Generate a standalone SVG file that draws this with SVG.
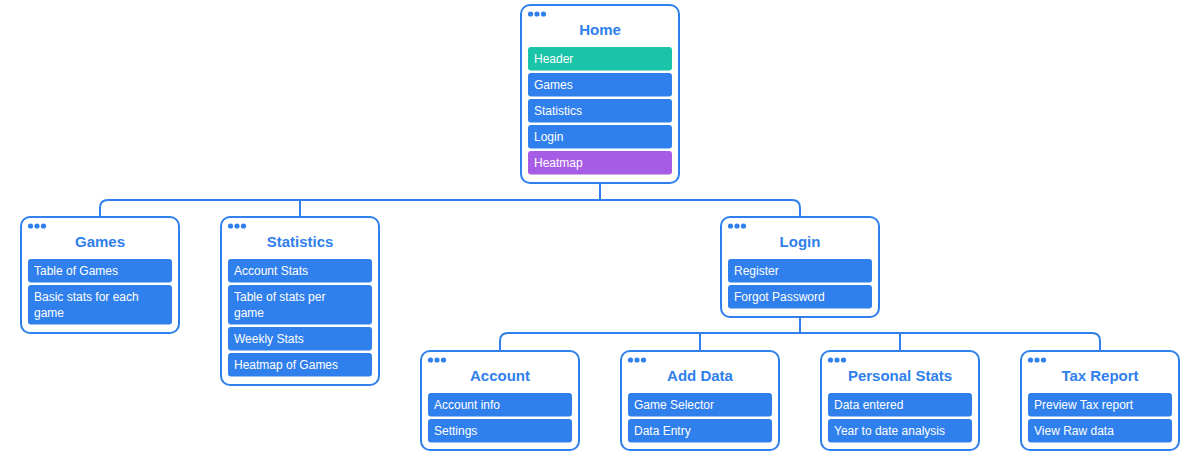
<svg xmlns="http://www.w3.org/2000/svg" width="1198" height="459" viewBox="0 0 1198 459">
<style>
.box{fill:#fff;stroke:#2f80ed;stroke-width:2}
.it{fill:#2f80ed}
.teal{fill:#19c4a8}
.purple{fill:#a75ce6}
.dot{fill:#2f80ed}
.t{font-family:"Liberation Sans",Arial,sans-serif;font-weight:bold;font-size:15px;fill:#2f80ed;text-anchor:middle}
.l{font-family:"Liberation Sans",Arial,sans-serif;font-size:12px;fill:#fff}
.c{fill:none;stroke:#2f80ed;stroke-width:2}
</style>
<defs>
<g id="dots"><circle cx="9.5" cy="9" r="2.6" class="dot"/><circle cx="16" cy="9" r="2.6" class="dot"/><circle cx="22.5" cy="9" r="2.6" class="dot"/></g>
</defs>
<g id="connectors">
<path class="c" d="M600 183 V200 M100 217 V208 Q100 200 108 200 H792 Q800 200 800 208 V217 M300 200 V217"/>
<path class="c" d="M800 317 V333 M500 351 V341 Q500 333 508 333 H1092 Q1100 333 1100 341 V351 M700 333 V351 M900 333 V351"/>
</g>
<g id="home">
<rect class="box" x="521" y="5" width="158" height="178" rx="9"/>
<use href="#dots" x="521" y="5"/>
<text class="t" x="600" y="35">Home</text>
<rect class="teal" x="528" y="47" width="144" height="23.5" rx="3"/><text class="l" x="534" y="63">Header</text>
<rect class="it" x="528" y="73" width="144" height="23.5" rx="3"/><text class="l" x="534" y="89">Games</text>
<rect class="it" x="528" y="99" width="144" height="23.5" rx="3"/><text class="l" x="534" y="115">Statistics</text>
<rect class="it" x="528" y="125" width="144" height="23.5" rx="3"/><text class="l" x="534" y="141">Login</text>
<rect class="purple" x="528" y="151" width="144" height="23.5" rx="3"/><text class="l" x="534" y="167">Heatmap</text>
</g>
<g id="games">
<rect class="box" x="21" y="217" width="158" height="116" rx="9"/>
<use href="#dots" x="21" y="217"/>
<text class="t" x="100" y="247">Games</text>
<rect class="it" x="28" y="259" width="144" height="23.5" rx="3"/><text class="l" x="34" y="275">Table of Games</text>
<rect class="it" x="28" y="285" width="144" height="39.5" rx="3"/><text class="l" x="34" y="301">Basic stats for each</text><text class="l" x="34" y="317">game</text>
</g>
<g id="statistics">
<rect class="box" x="221" y="217" width="158" height="168" rx="9"/>
<use href="#dots" x="221" y="217"/>
<text class="t" x="300" y="247">Statistics</text>
<rect class="it" x="228" y="259" width="144" height="23.5" rx="3"/><text class="l" x="234" y="275">Account Stats</text>
<rect class="it" x="228" y="285" width="144" height="39.5" rx="3"/><text class="l" x="234" y="301">Table of stats per</text><text class="l" x="234" y="317">game</text>
<rect class="it" x="228" y="327" width="144" height="23.5" rx="3"/><text class="l" x="234" y="343">Weekly Stats</text>
<rect class="it" x="228" y="353" width="144" height="23.5" rx="3"/><text class="l" x="234" y="369">Heatmap of Games</text>
</g>
<g id="login">
<rect class="box" x="721" y="217" width="158" height="100" rx="9"/>
<use href="#dots" x="721" y="217"/>
<text class="t" x="800" y="247">Login</text>
<rect class="it" x="728" y="259" width="144" height="23.5" rx="3"/><text class="l" x="734" y="275">Register</text>
<rect class="it" x="728" y="285" width="144" height="23.5" rx="3"/><text class="l" x="734" y="301">Forgot Password</text>
</g>
<g id="account">
<rect class="box" x="421" y="351" width="158" height="99" rx="9"/>
<use href="#dots" x="421" y="351"/>
<text class="t" x="500" y="381">Account</text>
<rect class="it" x="428" y="393" width="144" height="23.5" rx="3"/><text class="l" x="434" y="409">Account info</text>
<rect class="it" x="428" y="419" width="144" height="23.5" rx="3"/><text class="l" x="434" y="435">Settings</text>
</g>
<g id="adddata">
<rect class="box" x="621" y="351" width="158" height="99" rx="9"/>
<use href="#dots" x="621" y="351"/>
<text class="t" x="700" y="381">Add Data</text>
<rect class="it" x="628" y="393" width="144" height="23.5" rx="3"/><text class="l" x="634" y="409">Game Selector</text>
<rect class="it" x="628" y="419" width="144" height="23.5" rx="3"/><text class="l" x="634" y="435">Data Entry</text>
</g>
<g id="personalstats">
<rect class="box" x="821" y="351" width="158" height="99" rx="9"/>
<use href="#dots" x="821" y="351"/>
<text class="t" x="900" y="381">Personal Stats</text>
<rect class="it" x="828" y="393" width="144" height="23.5" rx="3"/><text class="l" x="834" y="409">Data entered</text>
<rect class="it" x="828" y="419" width="144" height="23.5" rx="3"/><text class="l" x="834" y="435">Year to date analysis</text>
</g>
<g id="taxreport">
<rect class="box" x="1021" y="351" width="158" height="99" rx="9"/>
<use href="#dots" x="1021" y="351"/>
<text class="t" x="1100" y="381">Tax Report</text>
<rect class="it" x="1028" y="393" width="144" height="23.5" rx="3"/><text class="l" x="1034" y="409">Preview Tax report</text>
<rect class="it" x="1028" y="419" width="144" height="23.5" rx="3"/><text class="l" x="1034" y="435">View Raw data</text>
</g>
</svg>
